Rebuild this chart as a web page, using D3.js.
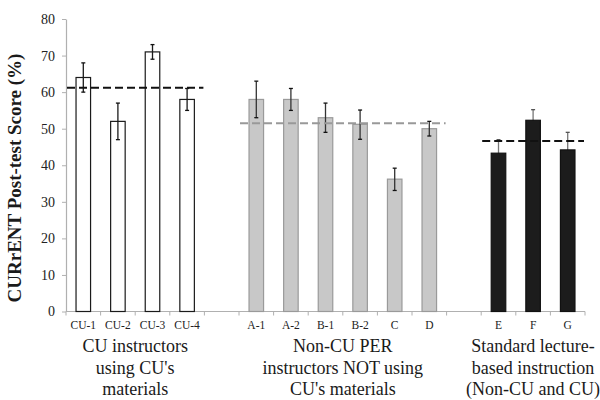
<!DOCTYPE html>
<html>
<head>
<meta charset="utf-8">
<script src="https://cdn.jsdelivr.net/npm/d3@7"></script>
<style>
  html, body { margin: 0; padding: 0; background: #fff; }
  svg text { font-family: 'Liberation Serif', 'Times New Roman', Times, 'DejaVu Serif', serif !important; }
</style>
</head>
<body>
<svg id="chart" width="600" height="400"></svg>
<script>
// ---- Data ----
const group1Cats = ["CU-1", "CU-2", "CU-3", "CU-4"];
const group1Vals = [64, 52, 71, 58];
const group1Lo   = [60, 47, 69, 55];
const group1Hi   = [68, 57, 73, 61];

const group2Cats = ["A-1", "A-2", "B-1", "B-2", "C", "D"];
const group2Vals = [58, 58, 53, 51.2, 36.2, 50];
const group2Lo   = [53, 55, 49, 47.1, 33.1, 48];
const group2Hi   = [63, 61, 57, 55.1, 39.2, 52];

const group3Cats = ["E", "F", "G"];
const group3Vals = [43.3, 52.3, 44.2];
const group3Lo   = [39.5, 49, 39.5];
const group3Hi   = [47, 55.2, 49];

const groupMeans  = [61.2, 51.5, 46.6];
const groupLabels = [
  ["CU instructors", "using CU's", "materials"],
  ["Non-CU PER", "instructors NOT using", "CU's materials"],
  ["Standard lecture-", "based instruction", "(Non-CU and CU)"]
];
const yTicks = [0, 10, 20, 30, 40, 50, 60, 70, 80];
const yTitle = "CURrENT Post-test Score (%)";

// ---- Layout ----
const FONT = "'Liberation Serif', 'Times New Roman', Times, 'DejaVu Serif', serif";
const svg = d3.select("#chart").attr("font-family", FONT);
const mLeft = 66, mRight = 585, mTop = 19, mBottom = 311.5;

const domain = [...group1Cats, "_gap1", ...group2Cats, "_gap2", ...group3Cats];
const x = d3.scaleBand().domain(domain).range([mLeft, mRight]).padding(0);
const y = d3.scaleLinear().domain([0, 80]).range([mBottom, mTop]);
const bw = x.bandwidth() * 0.42;

const groups = [
  { cats: group1Cats, vals: group1Vals, lo: group1Lo, hi: group1Hi,
    fill: "#ffffff", stroke: "#1a1a1a", err: "#1a1a1a", cap: "#111", mean: "#111", meanW: 2.2, errBelow: false },
  { cats: group2Cats, vals: group2Vals, lo: group2Lo, hi: group2Hi,
    fill: "#c8c8c8", stroke: "#9a9a9a", err: "#333", cap: "#111", mean: "#999", meanW: 2, errBelow: false },
  { cats: group3Cats, vals: group3Vals, lo: group3Lo, hi: group3Hi,
    fill: "#1c1c1c", stroke: "#111", err: "#777", cap: "#555", mean: "#111", meanW: 2, errBelow: true }
];

// ---- Axes ----
const yAxis = svg.append("g").attr("transform", `translate(${mLeft},0)`)
  .call(d3.axisLeft(y).tickValues(yTicks).tickSize(4).tickPadding(7).tickSizeOuter(0));
yAxis.attr("font-family", FONT);
yAxis.select(".domain").attr("stroke", "#b0b0b0").attr("stroke-width", 1.2);
yAxis.selectAll(".tick line").attr("stroke", "#b0b0b0");
yAxis.selectAll(".tick text")
  .attr("font-family", FONT)
  .attr("font-size", 14).attr("fill", "#222");

const bounds = domain.map(d => x(d)).concat([mRight]);
svg.append("line").attr("x1", mLeft).attr("x2", mRight).attr("y1", mBottom).attr("y2", mBottom)
  .attr("stroke", "#b0b0b0").attr("stroke-width", 1.2);
svg.append("g").selectAll("line").data(bounds).join("line")
  .attr("x1", d => d).attr("x2", d => d).attr("y1", mBottom).attr("y2", mBottom + 4)
  .attr("stroke", "#b0b0b0").attr("stroke-width", 1);

svg.append("g").selectAll("text").data(domain.filter(d => !d.startsWith("_"))).join("text")
  .attr("x", d => x(d) + x.bandwidth() / 2)
  .attr("y", 329)
  .attr("text-anchor", "middle")
  .attr("font-family", FONT)
  .attr("font-size", 11.5).attr("fill", "#222")
  .text(d => d);

// ---- Bars, error bars, mean lines ----
groups.forEach((g, gi) => {
  const data = g.cats.map((c, i) => ({ c, v: g.vals[i], lo: g.lo[i], hi: g.hi[i] }));
  const gg = svg.append("g");
  const cxOf = d => x(d.c) + x.bandwidth() / 2;

  const drawErr = () => {
    const eb = gg.selectAll("g.err").data(data).join("g").attr("class", "err");
    eb.append("line")
      .attr("x1", cxOf).attr("x2", cxOf)
      .attr("y1", d => y(d.lo)).attr("y2", d => y(d.hi))
      .attr("stroke", g.err).attr("stroke-width", 1.3);
    ["lo", "hi"].forEach(k => {
      eb.append("line")
        .attr("x1", d => cxOf(d) - 2).attr("x2", d => cxOf(d) + 2)
        .attr("y1", d => y(d[k])).attr("y2", d => y(d[k]))
        .attr("stroke", g.cap).attr("stroke-width", 1.3);
    });
  };

  if (g.errBelow) drawErr();
  gg.selectAll("rect").data(data).join("rect")
    .attr("x", d => cxOf(d) - bw / 2)
    .attr("width", bw)
    .attr("y", d => y(d.v))
    .attr("height", d => y(0) - y(d.v))
    .attr("fill", g.fill).attr("stroke", g.stroke).attr("stroke-width", 1.2);
  if (!g.errBelow) drawErr();

  const x0 = x(g.cats[0]) + 1;
  const x1 = x(g.cats[g.cats.length - 1]) + x.bandwidth() - 1;
  gg.append("line")
    .attr("x1", x0).attr("x2", x1)
    .attr("y1", y(groupMeans[gi])).attr("y2", y(groupMeans[gi]))
    .attr("stroke", g.mean).attr("stroke-width", g.meanW)
    .attr("stroke-dasharray", "8,4");

  const cx = (x(g.cats[0]) + x(g.cats[g.cats.length - 1]) + x.bandwidth()) / 2;
  const lbl = svg.append("text")
    .attr("text-anchor", "middle").attr("font-family", FONT)
    .attr("font-size", 18).attr("fill", "#1a1a1a");
  groupLabels[gi].forEach((line, li) => {
    lbl.append("tspan").attr("x", cx).attr("y", 352 + li * 21.5).text(line);
  });
});

svg.append("text")
  .attr("transform", `translate(21,178) rotate(-90)`)
  .attr("text-anchor", "middle").attr("font-family", FONT)
  .attr("font-size", 19).attr("font-weight", "bold").attr("fill", "#1a1a1a")
  .text(yTitle);
</script>
</body>
</html>
